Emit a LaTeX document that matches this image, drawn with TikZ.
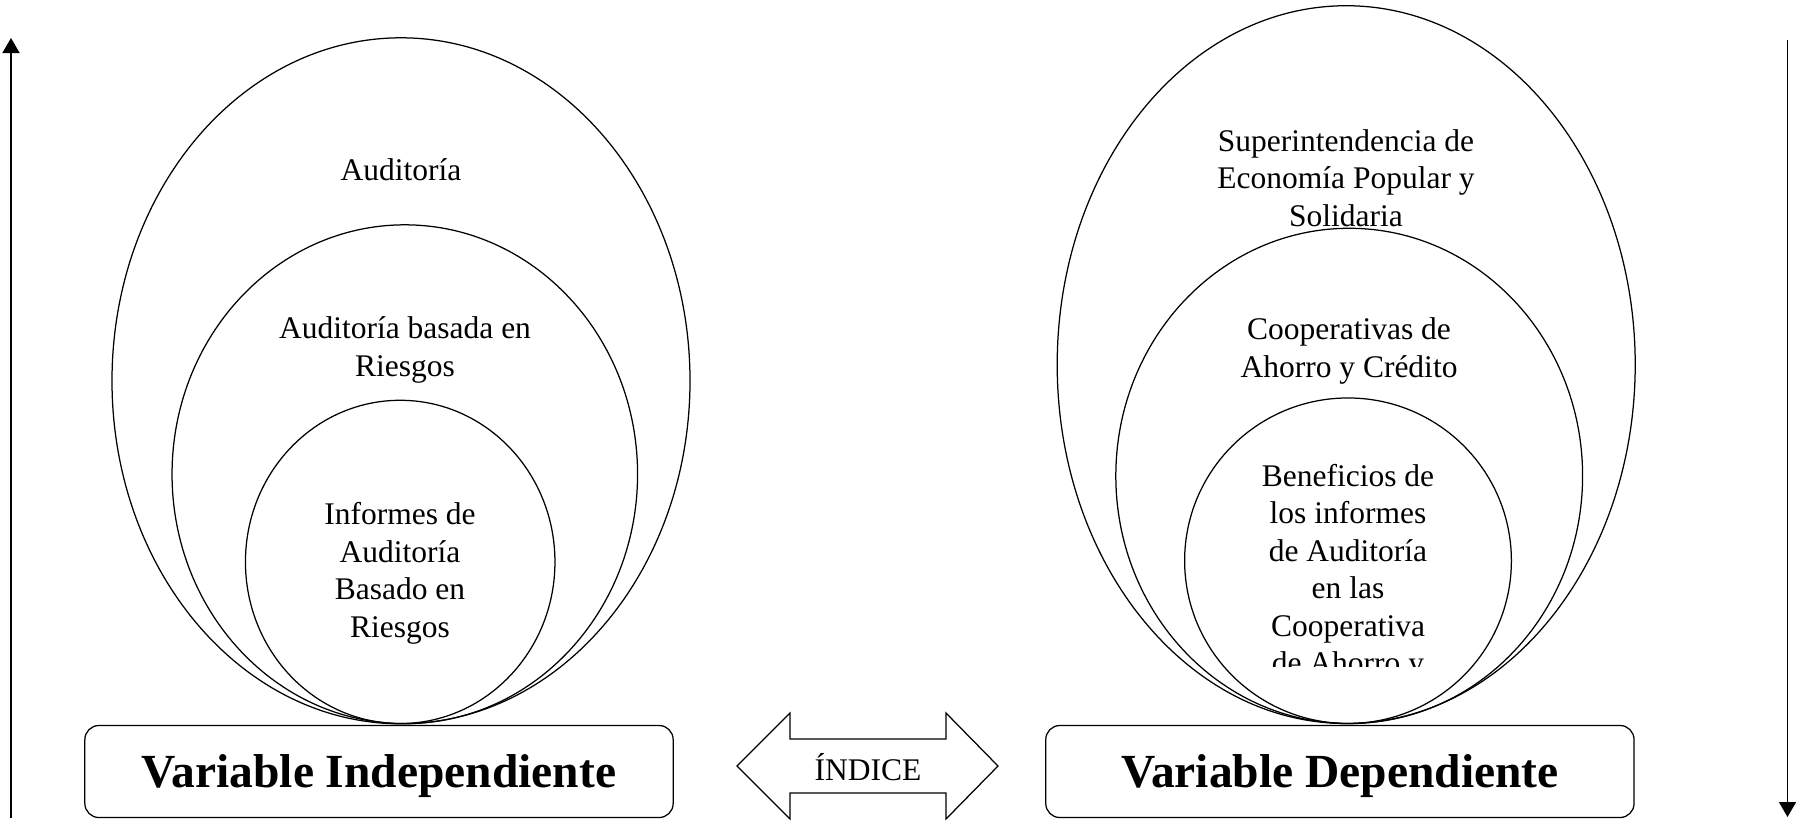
\documentclass[tikz,border=0pt]{standalone}
\usepackage{fontspec}
\setmainfont{Liberation Serif}
\usetikzlibrary{shapes.geometric,arrows.meta}

\tikzset{
  oval/.style={ellipse, draw, line width=0.5pt, inner sep=0pt, outer sep=0pt},
  label text/.style={align=center, inner sep=0pt, anchor=base,
    font=\fontsize{12.6}{15}\selectfont},
  varbox/.style={draw, rounded corners=5.6pt, line width=0.5pt,
    minimum width=235.3pt, minimum height=36.8pt, inner sep=0pt,
    text depth=0pt, font=\fontsize{19}{23}\selectfont\bfseries},
  axis arrow/.style={line width=0.6pt, -{Triangle[length=6pt,width=6.8pt]}},
}

\begin{document}
\begin{tikzpicture}[x=0.4pt, y=-0.4pt]
\useasboundingbox (0,0) rectangle (1798,822);

% independent variable: nested ovals
\node[oval, minimum width=231.2pt, minimum height=274.4pt] (aud) at (401,380.8) {};
\node[oval, minimum width=186.2pt, minimum height=199.5pt] (abr) at (404.8,474.2) {};
\node[oval, minimum width=123.8pt, minimum height=129.3pt] (inf) at (400.2,561.9) {};

% multi-line labels are placed by the baseline of their last line
\node[label text] (taud) at (401,180) {Auditoría};
\node[label text] (tabr) at (405,376) {Auditoría basada en\\Riesgos};
\node[label text] (tinf) at (400,637) {Informes de\\Auditoría\\Basado en\\Riesgos};

% dependent variable: nested ovals
\node[oval, minimum width=231.2pt, minimum height=287.1pt] (seps) at (1346.2,364.6) {};
\node[oval, minimum width=186.7pt, minimum height=198.1pt] (coop) at (1349.2,475.9) {};
\node[oval, minimum width=130.7pt, minimum height=130.2pt] (ben) at (1348,560.7) {};

\node[label text] (tseps) at (1346,226) {Superintendencia de\\Economía Popular y\\Solidaria};
\node[label text] (tcoop) at (1349,377) {Cooperativas de\\Ahorro y Crédito};
\begin{scope}
  \clip (1100,380) rectangle (1600,666);
  \node[label text] (tben) at (1348,673.6) {Beneficios de\\los informes\\de Auditoría\\en las\\Cooperativa\\de Ahorro y};
\end{scope}

% variable boxes
\node[varbox] (vi) at (379,771.5) {Variable Independiente};
\node[varbox] (vd) at (1339.9,771.5) {Variable Dependiente};

% double arrow between the variables
\draw[line width=0.5pt, line join=miter]
  (737,766) -- (790,713) -- (790,739) -- (946,739) -- (946,713) -- (998,766)
  -- (946,819) -- (946,793) -- (790,793) -- (790,819) -- cycle;
\node[label text] (indice) at (868,780) {ÍNDICE};

% side axes
\coordinate (lbot) at (11,818);
\coordinate (ltop) at (11,38);
\coordinate (rtop) at (1787.5,40);
\coordinate (rbot) at (1787.5,817);
\draw[axis arrow] (lbot) -- (ltop);
\draw[axis arrow] (rtop) -- (rbot);
\end{tikzpicture}
\end{document}
